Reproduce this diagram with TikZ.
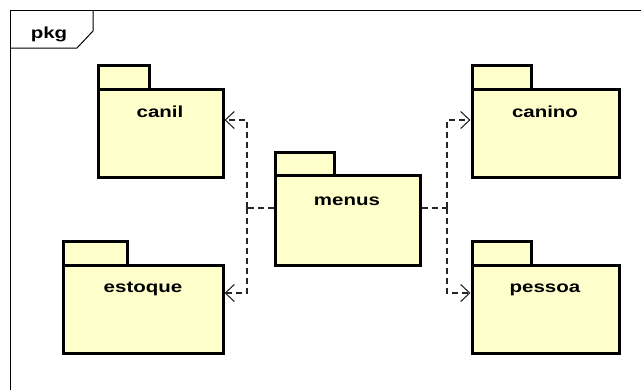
\documentclass[tikz,border=0pt]{standalone}
\usepackage{fontspec}
\setmainfont{Liberation Sans}
\usetikzlibrary{arrows.meta,calc}
\definecolor{pkgfill}{RGB}{255,255,204}
\tikzset{
  pkgbody/.style={draw=black, fill=pkgfill, line width=3pt, inner sep=0pt, outer sep=0pt, anchor=north west},
  pkgtab/.style={draw=black, fill=pkgfill, line width=3pt, inner sep=0pt, outer sep=0pt, anchor=south west},
  pkgname/.style={font=\fontsize{16}{19}\selectfont\bfseries, inner sep=0pt, anchor=base},
  dep/.style={draw=black!85, line width=1.1pt, dash pattern=on 6pt off 4pt},
  deptip/.style={-{Straight Barb[length=9pt,width=17pt,line width=1.1pt]}},
}
\newcommand{\wide}[1]{\scalebox{1.28}[1]{#1}}
\begin{document}
\begin{tikzpicture}[x=1pt,y=-1pt]
  \useasboundingbox (0,0) rectangle (641,389);
  % outer frame with name tab
  \begin{scope}
    \clip (0,0) rectangle (641,389);
    \draw[line width=1pt] (10,10) rectangle (660,400);
    \draw[line width=1pt] (10,48) -- (77,48) -- (93,31) -- (93,10);
  \end{scope}
  \node[pkgname, anchor=base] (frametitle) at (49,38) {\wide{pkg}};

  % packages: tab + body
  \node[pkgtab, minimum width=51pt, minimum height=24pt] (caniltab) at (98,89) {};
  \node[pkgbody, minimum width=125pt, minimum height=88pt] (canil) at (98,89) {};
  \node[pkgname] (canilname) at (160,117) {\wide{canil}};

  \node[pkgtab, minimum width=64pt, minimum height=24pt] (estoquetab) at (63,265) {};
  \node[pkgbody, minimum width=160pt, minimum height=88pt] (estoque) at (63,265) {};
  \node[pkgname] (estoquename) at (143,292) {\wide{estoque}};

  \node[pkgtab, minimum width=59pt, minimum height=23pt] (menustab) at (275,175) {};
  \node[pkgbody, minimum width=145pt, minimum height=90pt] (menus) at (275,175) {};
  \node[pkgname] (menusname) at (347,205) {\wide{menus}};

  \node[pkgtab, minimum width=59pt, minimum height=24pt] (caninotab) at (472,89) {};
  \node[pkgbody, minimum width=147pt, minimum height=88pt] (canino) at (472,89) {};
  \node[pkgname] (caninoname) at (545,117) {\wide{canino}};

  \node[pkgtab, minimum width=59pt, minimum height=24pt] (pessoatab) at (472,265) {};
  \node[pkgbody, minimum width=147pt, minimum height=88pt] (pessoa) at (472,265) {};
  \node[pkgname] (pessoaname) at (545,292) {\wide{pessoa}};

  % dependency routing points
  \coordinate (menusL) at ($(menus.north west)+(-1.5,33)$);
  \coordinate (menusR) at ($(menus.north east)+(1.5,33)$);
  \coordinate (jl) at (247,208);
  \coordinate (jr) at (447,208);
  \coordinate (canilin) at ($(canil.north east)+(1.5,31)$);
  \coordinate (estoquein) at ($(estoque.north east)+(1.5,28)$);
  \coordinate (caninoin) at ($(canino.north west)+(-1.5,31)$);
  \coordinate (pessoain) at ($(pessoa.north west)+(-1.5,28)$);

  % dependencies
  \draw[dep] (menusL) -- (jl);
  \draw[dep] (menusR) -- (jr);
  \draw[dep, deptip] (jl) |- (canilin);
  \draw[dep, deptip] (jl) |- (estoquein);
  \draw[dep, deptip] (jr) |- (caninoin);
  \draw[dep, deptip] (jr) |- (pessoain);
\end{tikzpicture}
\end{document}
